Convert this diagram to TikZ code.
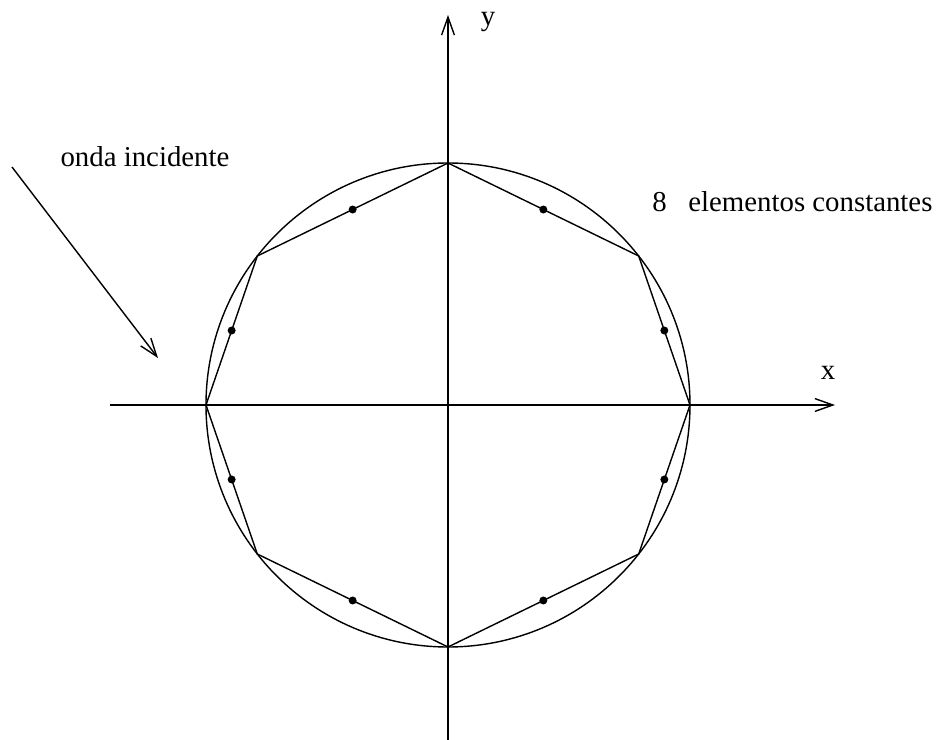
\documentclass[tikz,border=0pt]{standalone}
\usepackage{fontspec}
\setmainfont{Liberation Serif}
\usetikzlibrary{arrows.meta}

\begin{document}
\begin{tikzpicture}[line width=1pt]

  \tikzset{
    lbl/.style  = {font=\fontsize{20.5}{24}\selectfont, inner sep=0pt},
    axis/.style = {-{Straight Barb[length=0.45cm,width=0.32cm]}},
    pt/.style   = {circle, fill=black, minimum size=0.2cm, inner sep=0pt},
  }

  \def\R{6.05}                     % circle radius, cm

  \useasboundingbox (-11.2,-8.375) rectangle (12.2,10.125);

  % ---- axes -------------------------------------------------------------
  \coordinate (xl) at (-8.45,0);
  \coordinate (xr) at (9.675,0);
  \coordinate (yb) at (0,-8.375);
  \coordinate (yt) at (0,9.75);
  \draw[axis] (xl) -- (xr);
  \draw[axis] (yb) -- (yt);
  \node[lbl] (xlab) at (9.5,0.8)   {x};
  \node[lbl] (ylab) at (1.0,9.575) {y};

  % ---- circle and the eight elements ------------------------------------
  \draw (0,0) circle (\R);
  \foreach \i/\a in {1/0, 2/38, 3/90, 4/142, 5/180, 6/218, 7/270, 8/322}
    \coordinate (v\i) at (\a:\R);
  \draw (v1) -- (v2) -- (v3) -- (v4) -- (v5) -- (v6) -- (v7) -- (v8) -- cycle;
  \foreach \i/\j in {1/2, 2/3, 3/4, 4/5, 5/6, 6/7, 7/8, 8/1}
    \path (v\i) -- (v\j) node[pt, midway] (m\i) {};

  \node[lbl] (nel) at (8.61,5.075) {8~~ elementos constantes};

  % ---- incident wave ----------------------------------------------------
  \node[lbl] (onda) at (-7.575,6.2) {onda incidente};
  \coordinate (w0) at (-10.9,5.95);
  \coordinate (w1) at (-7.25,1.175);
  \draw[axis] (w0) -- (w1);

\end{tikzpicture}
\end{document}
